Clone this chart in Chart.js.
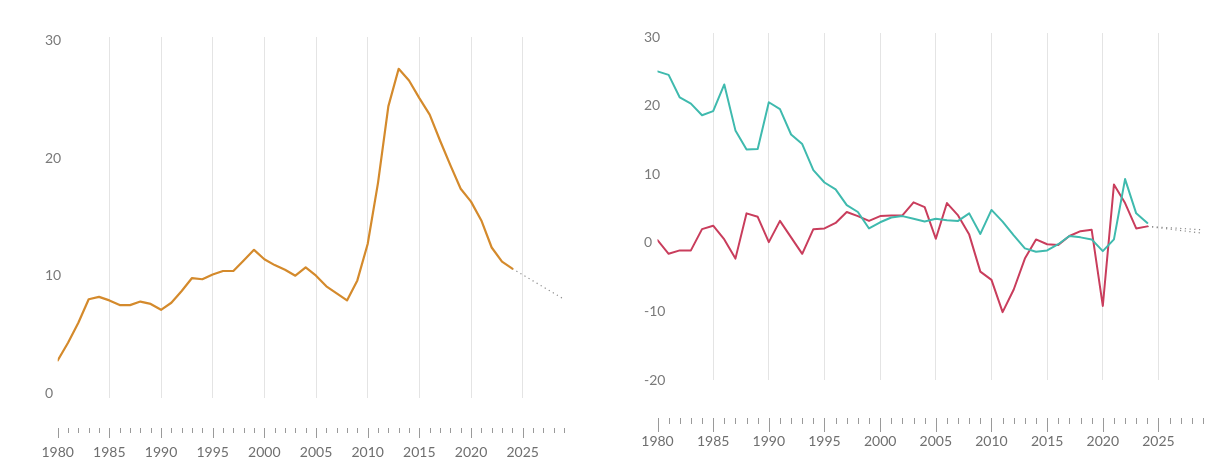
<!DOCTYPE html>
<html>
<head>
<meta charset="utf-8">
<script src="https://cdn.jsdelivr.net/npm/chart.js@4"></script>
<style>
    body { margin: 0; background: #fff; overflow: hidden; }
    #wrap { position: relative; width: 1206px; height: 461px; }
    #left-box { position: absolute; left: 0; top: 0; width: 600px; height: 461px; }
    #right-box { position: absolute; left: 600px; top: 0; width: 606px; height: 461px; }
</style>
</head>
<body>
<div id="wrap">
    <div id="left-box"><canvas id="left-chart" width="600" height="461"></canvas></div>
    <div id="right-box"><canvas id="right-chart" width="606" height="461"></canvas></div>
</div>
<script>
// years 1980..2024
const years = [];
for (let y = 1980; y <= 2024; y++) years.push(y);

// left panel (orange)
const leftValues = [
    2.8, 4.3, 6.0, 8.0, 8.2, 7.9, 7.5, 7.5, 7.8, 7.6,
    7.1, 7.7, 8.7, 9.8, 9.7, 10.1, 10.4, 10.4, 11.3, 12.2,
    11.4, 10.9, 10.5, 10.0, 10.7, 10.0, 9.1, 8.5, 7.9, 9.6,
    12.7, 17.9, 24.4, 27.6, 26.6, 25.1, 23.7, 21.5, 19.4, 17.4,
    16.3, 14.7, 12.4, 11.2, 10.6
];
const leftForecastYears = [2024, 2029];
const leftForecast = [10.6, 8.0];

// right panel (teal + red)
const tealValues = [
    25.0, 24.5, 21.2, 20.3, 18.6, 19.2, 23.1, 16.4, 13.6, 13.7,
    20.5, 19.5, 15.8, 14.4, 10.6, 8.8, 7.8, 5.5, 4.5, 2.1,
    3.0, 3.7, 3.9, 3.5, 3.1, 3.5, 3.3, 3.2, 4.3, 1.3,
    4.8, 3.1, 1.1, -0.8, -1.3, -1.1, -0.2, 1.0, 0.8, 0.5,
    -1.2, 0.5, 9.3, 4.3, 2.9
];
const redValues = [
    0.4, -1.6, -1.1, -1.1, 2.0, 2.5, 0.5, -2.3, 4.3, 3.8,
    0.1, 3.2, 0.8, -1.6, 2.0, 2.1, 2.9, 4.5, 3.9, 3.2,
    3.9, 4.0, 4.0, 5.9, 5.2, 0.6, 5.8, 4.0, 1.2, -4.2,
    -5.4, -10.1, -6.8, -2.3, 0.5, -0.2, -0.3, 1.0, 1.7, 1.9,
    -9.2, 8.5, 5.8, 2.1, 2.4
];
const rightForecastYears = [2024, 2029];
const tealForecast = [2.4, 1.4];
const redForecast = [2.4, 1.9];

const leftTicks = [0, 10, 20, 30];
const rightTicks = [-20, -10, 0, 10, 20, 30];

function toPoints(xs, ys) {
    return ys.map((v, i) => ({ x: xs[i], y: v }));
}

Chart.defaults.font.family = 'Lato, "Open Sans", sans-serif';
Chart.defaults.font.size = 14;
Chart.defaults.color = '#7a7a7a';

// year tick marks below the plot (major every 5 years)
const yearTickMarks = {
    id: 'yearTickMarks',
    afterDraw(chart, args, opts) {
        const ctx = chart.ctx;
        const xs = chart.scales.x;
        const top = chart.chartArea.bottom + opts.offset;
        ctx.save();
        ctx.strokeStyle = '#9a9a9a';
        ctx.lineWidth = 1;
        for (let y = 1980; y <= 2029; y++) {
            const px = Math.round(xs.getPixelForValue(y)) + 0.5;
            const len = y % 5 === 0 ? opts.major : opts.minor;
            ctx.beginPath();
            ctx.moveTo(px, top);
            ctx.lineTo(px, top + len);
            ctx.stroke();
        }
        ctx.restore();
    }
};

function lineSet(data, color, width) {
    return {
        data: data,
        borderColor: color,
        borderWidth: width,
        pointRadius: 0,
        tension: 0,
        fill: false,
        borderJoinStyle: 'round',
        borderCapStyle: 'round'
    };
}

function dotSet(data, color) {
    return {
        data: data,
        borderColor: color,
        borderWidth: 1.2,
        borderDash: [1.2, 3.5],
        pointRadius: 0,
        tension: 0,
        fill: false
    };
}

function makeOptions(cfg) {
    return {
        responsive: false,
        animation: false,
        devicePixelRatio: 1,
        layout: { padding: cfg.padding },
        plugins: {
            legend: { display: false },
            tooltip: { enabled: false },
            yearTickMarks: cfg.marks
        },
        scales: {
            x: {
                type: 'linear',
                min: 1980,
                max: 2029,
                border: { display: false },
                afterFit: s => { s.height = cfg.xHeight; },
                grid: {
                    drawTicks: false,
                    lineWidth: 1,
                    color: c => (c.tick && c.tick.value % 5 === 0 && c.tick.value > 1980) ? '#e4e4e4' : 'rgba(0,0,0,0)'
                },
                ticks: {
                    stepSize: 1,
                    autoSkip: false,
                    maxRotation: 0,
                    padding: 0,
                    // tall line height pushes the year labels below the tick marks
                    font: { lineHeight: cfg.labelLine },
                    color: '#6f6f6f',
                    callback: v => (v % 5 === 0 ? String(v) : '')
                }
            },
            y: {
                min: cfg.yMin,
                max: cfg.yMax,
                border: { display: false },
                grid: { display: false, drawTicks: false },
                afterBuildTicks: s => { s.ticks = cfg.yTicks.map(v => ({ value: v })); },
                afterFit: s => { s.width = 0; },
                ticks: {
                    mirror: true,
                    padding: cfg.yLabelShift,
                    color: '#7a7a7a'
                }
            }
        }
    };
}

new Chart(document.getElementById('left-chart'), {
    type: 'line',
    data: {
        datasets: [
            lineSet(toPoints(years, leftValues), '#d48a2c', 2.2),
            dotSet(toPoints(leftForecastYears, leftForecast), '#8a8a8a')
        ]
    },
    options: makeOptions({
        padding: { top: 37, left: 57.7, right: 36, bottom: 0 },
        xHeight: 63,
        labelLine: '108px',
        yMin: -0.4,
        yMax: 30.3,
        yTicks: leftTicks,
        yLabelShift: -12.7,
        marks: { offset: 30, major: 10, minor: 5 }
    }),
    plugins: [yearTickMarks]
});

new Chart(document.getElementById('right-chart'), {
    type: 'line',
    data: {
        datasets: [
            lineSet(toPoints(years, tealValues), '#3fbaae', 2),
            lineSet(toPoints(years, redValues), '#c93d5c', 2),
            dotSet(toPoints(rightForecastYears, tealForecast), '#8a8a8a'),
            dotSet(toPoints(rightForecastYears, redForecast), '#8a8a8a')
        ]
    },
    options: makeOptions({
        padding: { top: 33, left: 57.5, right: 3, bottom: 0 },
        xHeight: 81,
        labelLine: '122px',
        yMin: -20,
        yMax: 30.6,
        yTicks: rightTicks,
        yLabelShift: -13.5,
        marks: { offset: 38, major: 14, minor: 6 }
    }),
    plugins: [yearTickMarks]
});
</script>
</body>
</html>
